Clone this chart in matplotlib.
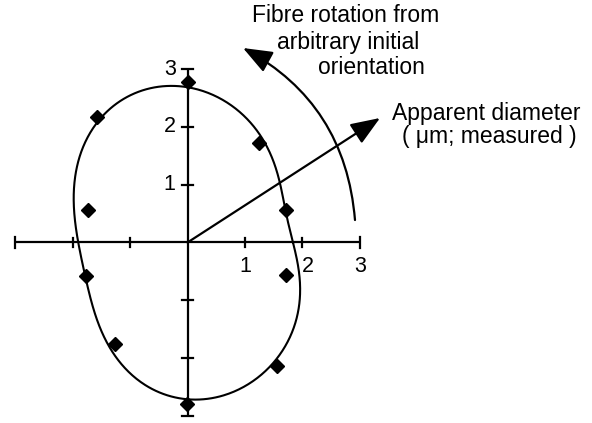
import numpy as np
import matplotlib
matplotlib.use("Agg")
import matplotlib.pyplot as plt

plt.rcParams['font.family'] = ['Liberation Sans', 'DejaVu Sans']

# Measured apparent diameter (um) at each rotation angle (degrees)
rotation_deg = [18, 54, 90, 126, 162, 198, 234, 270, 306, 342]
diameter_um = [1.80, 2.12, 2.77, 2.68, 1.83, 1.86, 2.16, 2.80, 2.65, 1.81]

# Fitted closed profile through the measurements (x, y in um)
fit_x = [1.82, 1.76, 1.66, 1.52, 1.28, 0.91, 0.45, 0.00, -0.45, -0.90,
         -1.29, -1.64, -1.87, -1.97, -1.97, -1.90, -1.78, -1.64, -1.35, -0.88,
         -0.45, 0.05, 0.62, 1.20, 1.67, 1.90, 1.96, 1.90]
fit_y = [0.00, 0.40, 0.85, 1.30, 1.83, 2.25, 2.57, 2.69, 2.70, 2.56,
         2.37, 2.02, 1.50, 0.92, 0.40, 0.00, -0.57, -1.18, -1.82, -2.34,
         -2.62, -2.74, -2.64, -2.32, -1.88, -1.35, -0.89, -0.30]

# Axis ticks and labels
tick_vals = [-3, -2, -1, 1, 2, 3]
label_vals = [1, 2, 3]

W, H = 592, 423
fig = plt.figure(figsize=(W / 100, H / 100), dpi=100)
ax = fig.add_axes([0, 0, 1, 1])
sx, sy = 57.4, 57.8
ox, oy = 187.5, 242.5
ax.set_xlim(-ox / sx, (W - ox) / sx)
ax.set_ylim(-(H - oy) / sy, oy / sy)
ax.axis('off')


def smooth_closed(px, py, order=5, n=720):
    """Least-squares Fourier smoothing of a closed profile in polar form."""
    px, py = np.asarray(px), np.asarray(py)
    th = np.arctan2(py, px)
    r = np.hypot(px, py)
    cols = [np.ones_like(th)]
    for k in range(1, order + 1):
        cols += [np.cos(k * th), np.sin(k * th)]
    coef, *_ = np.linalg.lstsq(np.column_stack(cols), r, rcond=None)
    t = np.linspace(0, 2 * np.pi, n)
    cols = [np.ones_like(t)]
    for k in range(1, order + 1):
        cols += [np.cos(k * t), np.sin(k * t)]
    rr = np.column_stack(cols) @ coef
    return rr * np.cos(t), rr * np.sin(t)


lw = 1.6
# Axes with crossing ticks and end caps
ax.plot([-3, 3], [0, 0], color='k', lw=lw, solid_capstyle='butt')
ax.plot([0, 0], [-3, 3], color='k', lw=lw, solid_capstyle='butt')
for t in tick_vals:
    h = 0.1 if abs(t) == 3 else 0.08
    ax.plot([t, t], [-h, h], color='k', lw=lw)
    w = 0.09
    ax.plot([-w, w], [t, t], color='k', lw=lw)

for v in label_vals:
    ax.text(v + (0.1 if v == 2 else 0.0), -0.42, str(v), ha='center', va='center', fontsize=15.5)
    ax.text(-0.31, v, str(v), ha='center', va='center', fontsize=15.5)

# Fitted profile
cx, cy = smooth_closed(fit_x, fit_y)
ax.plot(cx, cy, color='k', lw=1.5)

# Measurements
ang = np.deg2rad(rotation_deg)
d = np.array(diameter_um)
ax.plot(d * np.cos(ang), d * np.sin(ang), 'D', color='k', ms=7.3, zorder=5)

# Diameter arrow
ax.annotate('', xy=(3.354, 2.154), xytext=(0, 0),
            arrowprops=dict(arrowstyle='-|>,head_length=0.9,head_width=0.35',
                            lw=lw, color='k', mutation_scale=20, shrinkA=0, shrinkB=0))
# Rotation arrow
ax.annotate('', xy=(0.967, 3.365), xytext=(2.918, 0.389),
            arrowprops=dict(arrowstyle='-|>,head_length=0.9,head_width=0.35',
                            lw=lw, color='k', mutation_scale=20, shrinkA=0, shrinkB=0,
                            connectionstyle='arc3,rad=0.27'))

fs = 16.5
def ftext(px, py, s):
    fig.text(px / W, 1 - py / H, s, ha='left', va='center', fontsize=fs)

ftext(252, 15, 'Fibre rotation from')
ftext(277, 42, 'arbitrary initial')
ftext(318, 68, 'orientation')
ftext(392, 113, 'Apparent diameter')
ftext(402, 137, '( \u03bcm; measured )')

fig.savefig('out.png', dpi=100)
